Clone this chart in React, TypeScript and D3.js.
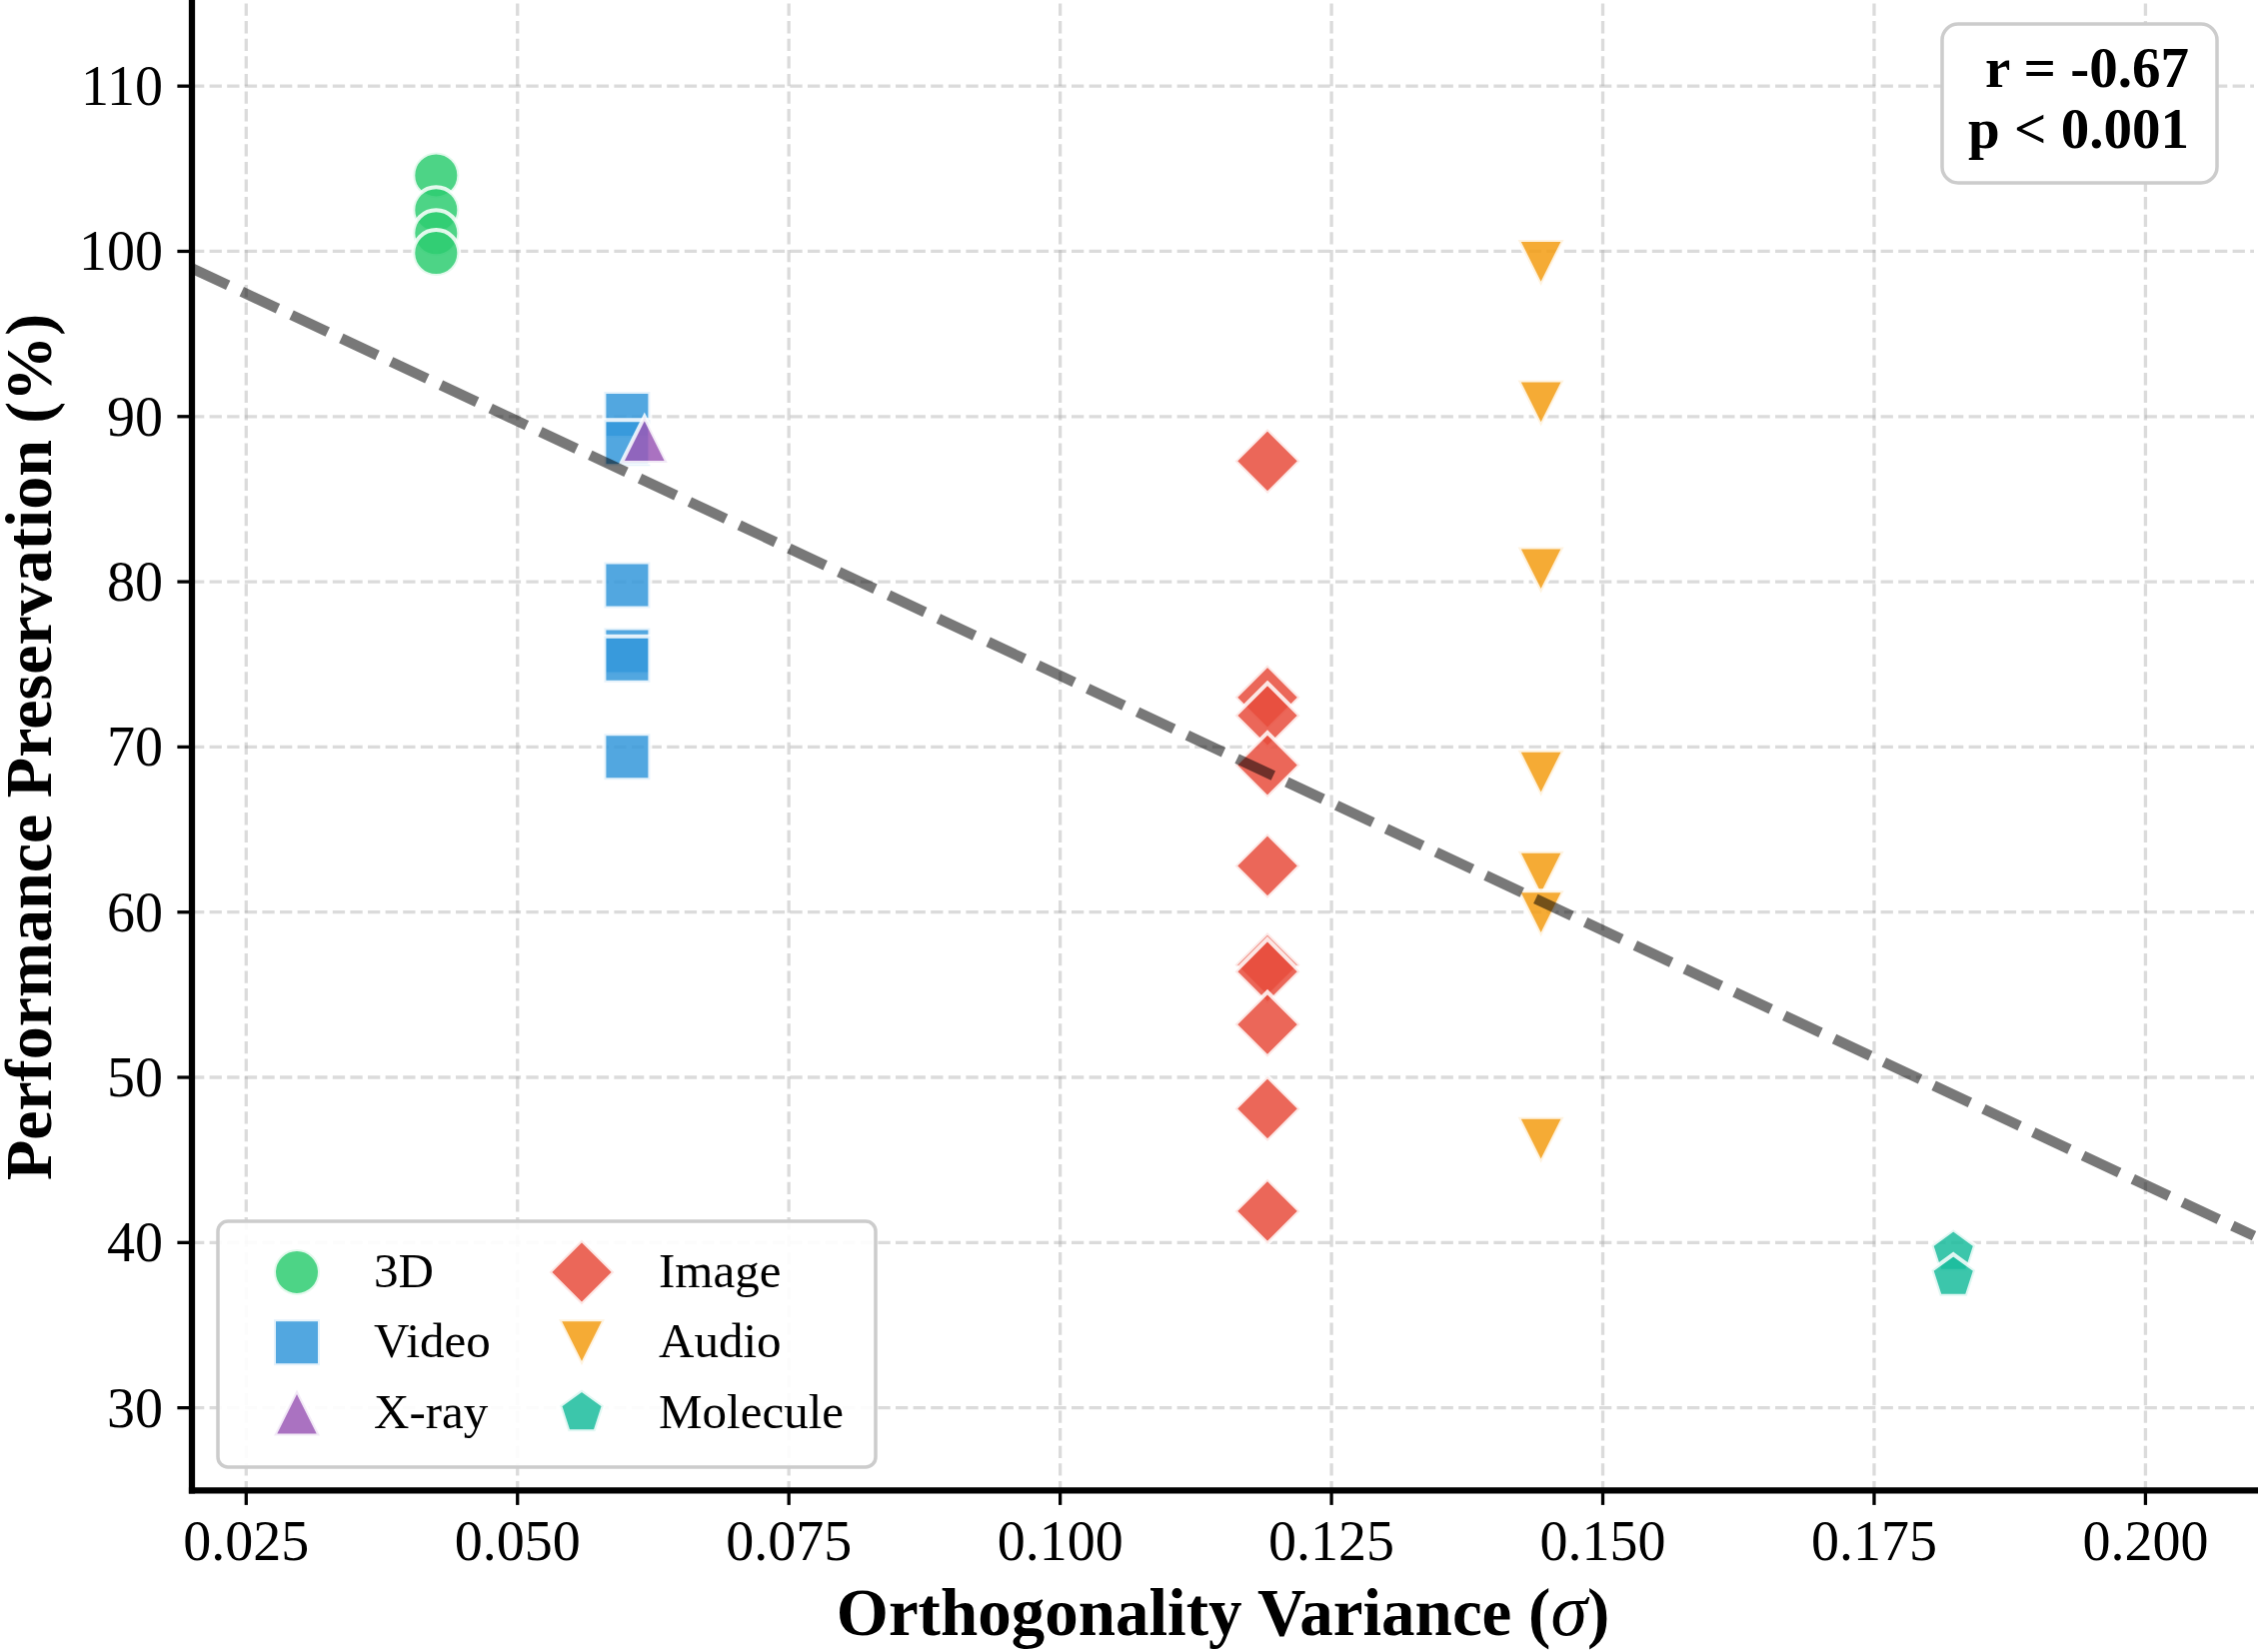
import React, { useEffect, useRef } from 'react';
import * as d3 from 'd3';

// Modalities, drawn in this order (legend fills column by column)
const categories = ['3D', 'Video', 'X-ray', 'Image', 'Audio', 'Molecule'];
const categoryColors = ['#2ecc71', '#3498db', '#9b59b6', '#e74c3c', '#f39c12', '#1abc9c'];
const categoryShapes = ['circle', 'square', 'triangleUp', 'diamond', 'triangleDown', 'pentagon'];

// Orthogonality variance (sigma) of each modality
const orthVariance = [0.0425, 0.0601, 0.0617, 0.1191, 0.1443, 0.1823];

// Performance preservation (%) of each run, per modality
const preservation3D = [104.6, 102.5, 101.1, 99.9];
const preservationVideo = [90.1, 88.4, 79.8, 75.8, 75.3, 69.4];
const preservationXray = [88.6];
const preservationImage = [87.3, 73.0, 71.9, 68.9, 62.8, 56.8, 56.4, 53.2, 48.1, 41.9];
const preservationAudio = [99.3, 90.8, 80.7, 68.4, 62.3, 59.9, 46.2];
const preservationMolecule = [39.4, 37.9];

const preservationByCategory = [
  preservation3D,
  preservationVideo,
  preservationXray,
  preservationImage,
  preservationAudio,
  preservationMolecule,
];

const xTicks = [0.025, 0.05, 0.075, 0.1, 0.125, 0.15, 0.175, 0.2];
const yTicks = [30, 40, 50, 60, 70, 80, 90, 100, 110];

const statsLines = ['r = -0.67', 'p < 0.001'];

const FONT = '"Liberation Serif", "Times New Roman", Times, serif';

// matplotlib-like marker outlines, size is the marker size squared
const markerTypes: Record<string, d3.SymbolType> = {
  circle: {
    draw(ctx, size) {
      const r = Math.sqrt(size) / 2;
      ctx.moveTo(r, 0);
      ctx.arc(0, 0, r, 0, 2 * Math.PI);
    },
  },
  square: {
    draw(ctx, size) {
      const h = Math.sqrt(size) / 2;
      ctx.rect(-h, -h, 2 * h, 2 * h);
    },
  },
  diamond: {
    draw(ctx, size) {
      const h = Math.sqrt(size) / Math.SQRT2;
      ctx.moveTo(0, -h);
      ctx.lineTo(h, 0);
      ctx.lineTo(0, h);
      ctx.lineTo(-h, 0);
      ctx.closePath();
    },
  },
  triangleUp: {
    draw(ctx, size) {
      const h = Math.sqrt(size) / 2;
      ctx.moveTo(0, -h);
      ctx.lineTo(h, h);
      ctx.lineTo(-h, h);
      ctx.closePath();
    },
  },
  triangleDown: {
    draw(ctx, size) {
      const h = Math.sqrt(size) / 2;
      ctx.moveTo(0, h);
      ctx.lineTo(-h, -h);
      ctx.lineTo(h, -h);
      ctx.closePath();
    },
  },
  pentagon: {
    draw(ctx, size) {
      const r = Math.sqrt(size) / 2;
      for (let k = 0; k < 5; k++) {
        const a = -Math.PI / 2 + (k * 2 * Math.PI) / 5;
        if (k === 0) ctx.moveTo(r * Math.cos(a), r * Math.sin(a));
        else ctx.lineTo(r * Math.cos(a), r * Math.sin(a));
      }
      ctx.closePath();
    },
  },
};

const ScatterChart = () => {
  const svgRef = useRef<SVGSVGElement>(null);

  useEffect(() => {
    const width = 2259;
    const height = 1653;
    const svg = d3.select(svgRef.current).attr('width', width).attr('height', height);
    svg.selectAll('*').remove();

    const left = 192;
    const right = 2255;
    const top = 3.5;
    const bottom = 1491.3;

    const x = d3.scaleLinear().domain([0.02, 0.21]).range([left, right]);
    const y = d3.scaleLinear().domain([25, 115]).range([bottom, top]);

    const markerSize = 46;
    const symbol = d3.symbol().size(markerSize * markerSize);

    const points = categories.flatMap((cat, i) =>
      preservationByCategory[i].map(v => ({ cat: i, x: orthVariance[i], y: v }))
    );

    svg.append('defs')
      .append('clipPath')
      .attr('id', 'plot-clip')
      .append('rect')
      .attr('x', left)
      .attr('y', 0)
      .attr('width', width - left)
      .attr('height', bottom);

    // grid
    const grid = svg.append('g')
      .attr('stroke', '#b0b0b0')
      .attr('stroke-opacity', 0.45)
      .attr('stroke-width', 3.3)
      .attr('stroke-dasharray', '12.3 5.3');
    grid.selectAll('.gx').data(xTicks).enter().append('line')
      .attr('x1', d => x(d)).attr('x2', d => x(d))
      .attr('y1', top).attr('y2', bottom);
    grid.selectAll('.gy').data(yTicks).enter().append('line')
      .attr('x1', left).attr('x2', right)
      .attr('y1', d => y(d)).attr('y2', d => y(d));

    // scatter points
    svg.append('g')
      .selectAll('path')
      .data(points)
      .enter()
      .append('path')
      .attr('transform', d => `translate(${x(d.x)},${y(d.y)})`)
      .attr('d', d => symbol.type(markerTypes[categoryShapes[d.cat]])())
      .attr('fill', d => categoryColors[d.cat])
      .attr('fill-opacity', 0.85)
      .attr('stroke', '#fff')
      .attr('stroke-opacity', 0.85)
      .attr('stroke-width', 4);

    // least-squares trend over all points
    const mx = d3.mean(points, d => d.x) as number;
    const my = d3.mean(points, d => d.y) as number;
    const sxy = d3.sum(points, d => (d.x - mx) * (d.y - my));
    const sxx = d3.sum(points, d => (d.x - mx) ** 2);
    const slope = sxy / sxx;
    const intercept = my - slope * mx;
    const trendX = x.domain();

    svg.append('path')
      .datum(trendX)
      .attr('clip-path', 'url(#plot-clip)')
      .attr('d', d3.line<number>().x(d => x(d)).y(d => y(intercept + slope * d)))
      .attr('fill', 'none')
      .attr('stroke', '#000')
      .attr('stroke-opacity', 0.53)
      .attr('stroke-width', 10.4)
      .attr('stroke-dasharray', '40 15');

    // spines and ticks
    const axes = svg.append('g').attr('stroke', '#000');
    axes.append('line')
      .attr('x1', left).attr('x2', left)
      .attr('y1', 0).attr('y2', bottom + 3.1)
      .attr('stroke-width', 6.25);
    axes.append('line')
      .attr('x1', left - 3.1).attr('x2', width)
      .attr('y1', bottom).attr('y2', bottom)
      .attr('stroke-width', 6.25);
    axes.selectAll('.tx').data(xTicks).enter().append('line')
      .attr('x1', d => x(d)).attr('x2', d => x(d))
      .attr('y1', bottom).attr('y2', bottom + 14.6)
      .attr('stroke-width', 3.3);
    axes.selectAll('.ty').data(yTicks).enter().append('line')
      .attr('x1', left - 14.6).attr('x2', left)
      .attr('y1', d => y(d)).attr('y2', d => y(d))
      .attr('stroke-width', 3.3);

    const fmtX = d3.format('.3f');
    svg.append('g').selectAll('text').data(xTicks).enter().append('text')
      .attr('x', d => x(d))
      .attr('y', 1561)
      .attr('text-anchor', 'middle')
      .style('font-family', FONT)
      .style('font-size', '56px')
      .text(d => fmtX(d));
    svg.append('g').selectAll('text').data(yTicks).enter().append('text')
      .attr('x', 163)
      .attr('y', d => y(d) + 19)
      .attr('text-anchor', 'end')
      .style('font-family', FONT)
      .style('font-size', '56px')
      .text(d => d3.format('d')(d));

    // axis titles
    const xTitle = svg.append('text')
      .attr('x', (left + right) / 2)
      .attr('y', 1636)
      .attr('text-anchor', 'middle')
      .style('font-family', FONT)
      .style('font-size', '67px')
      .style('font-weight', 'bold');
    xTitle.append('tspan').text('Orthogonality Variance (');
    xTitle.append('tspan').style('font-style', 'italic').style('font-weight', 'normal').style('font-size', '74px').text('σ');
    xTitle.append('tspan').text(')');

    svg.append('text')
      .attr('transform', `translate(51,${(top + bottom) / 2}) rotate(-90)`)
      .attr('text-anchor', 'middle')
      .style('font-family', FONT)
      .style('font-size', '66px')
      .style('font-weight', 'bold')
      .text('Performance Preservation (%)');

    // correlation box
    svg.append('rect')
      .attr('x', 1943).attr('y', 24)
      .attr('width', 275).attr('height', 159)
      .attr('rx', 16)
      .attr('fill', '#fff')
      .attr('stroke', '#cccccc')
      .attr('stroke-width', 3.5);
    svg.append('g').selectAll('text').data(statsLines).enter().append('text')
      .attr('x', 2190)
      .attr('y', (d, i) => 87 + i * 61)
      .attr('text-anchor', 'end')
      .style('font-family', FONT)
      .style('font-size', '57px')
      .style('font-weight', 'bold')
      .text(d => d);

    // legend
    const legend = svg.append('g');
    legend.append('rect')
      .attr('x', 218).attr('y', 1222)
      .attr('width', 658).attr('height', 246)
      .attr('rx', 10)
      .attr('fill', '#fff')
      .attr('fill-opacity', 0.9)
      .attr('stroke', '#cccccc')
      .attr('stroke-width', 3.5);

    const items = legend.selectAll('.item')
      .data(categories)
      .enter()
      .append('g')
      .attr('transform', (d, i) => `translate(${i < 3 ? 297 : 582},${1273 + (i % 3) * 70.3})`);
    items.append('path')
      .attr('d', (d, i) => symbol.type(markerTypes[categoryShapes[i]])())
      .attr('fill', (d, i) => categoryColors[i])
      .attr('fill-opacity', 0.85)
      .attr('stroke', '#fff')
      .attr('stroke-opacity', 0.85)
      .attr('stroke-width', 4);
    items.append('text')
      .attr('x', 77)
      .attr('y', 15)
      .style('font-family', FONT)
      .style('font-size', '49px')
      .text(d => d);
  }, []);

  return <svg ref={svgRef} style={{ display: 'block' }}></svg>;
};

export default function App() {
  return (
    <div>
      <style>{'body { margin: 0; background: #fff; }'}</style>
      <ScatterChart />
    </div>
  );
}
